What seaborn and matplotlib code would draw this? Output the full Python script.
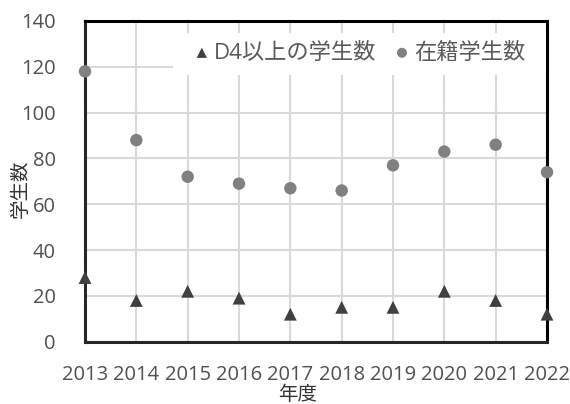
import matplotlib
matplotlib.use("Agg")
import matplotlib.pyplot as plt
import matplotlib.patches as mpatches
import seaborn as sns
import pandas as pd

# Yearly student counts
years = [2013, 2014, 2015, 2016, 2017, 2018, 2019, 2020, 2021, 2022]
d4_students = [28, 18, 22, 19, 12, 15, 15, 22, 18, 12]
enrolled_students = [118, 88, 72, 69, 67, 66, 77, 83, 86, 74]

label_d4 = "D4以上の学生数"
label_enrolled = "在籍学生数"
xlabel = "年度"
ylabel = "学生数"
yticks = [0, 20, 40, 60, 80, 100, 120, 140]

sns.set_theme(style="white")
plt.rcParams["font.family"] = ["Open Sans", "Noto Sans CJK JP", "DejaVu Sans"]

df = pd.DataFrame({"year": years, "d4": d4_students, "enrolled": enrolled_students})

fig = plt.figure(figsize=(5.7, 4.04), dpi=100)
ax = fig.add_axes([85 / 570, (404 - 341.7) / 404, 462 / 570, 320.7 / 404])

sns.scatterplot(data=df, x="year", y="d4", ax=ax, marker="^", s=85,
                color="#404040", edgecolor="none", label=label_d4,
                clip_on=False, zorder=4)
sns.scatterplot(data=df, x="year", y="enrolled", ax=ax, marker="o", s=80,
                color="#808080", edgecolor="none", label=label_enrolled,
                clip_on=False, zorder=4)

ax.set_xlim(2013, 2022)
ax.set_ylim(0, 140)
ax.set_xticks(years)
ax.set_yticks(yticks)
ax.set_axisbelow(True)
ax.grid(True, color="#d9d9d9", linewidth=1.5)

text_col = "#505050"
ax.tick_params(axis="both", length=0, labelsize=14.5, labelcolor=text_col)
ax.tick_params(axis="y", pad=21)
ax.tick_params(axis="x", pad=17)

for side in ["left", "bottom"]:
    ax.spines[side].set_color("#262626")
    ax.spines[side].set_linewidth(2.2)
for side in ["top", "right"]:
    ax.spines[side].set_color("#000000")
    ax.spines[side].set_linewidth(2.2)

ax.set_xlabel(xlabel, fontsize=14, color="#333333")
ax.set_ylabel(ylabel, fontsize=14, color="#333333")
ax.xaxis.label.set_va("center")
ax.yaxis.label.set_va("center")
ax.xaxis.set_label_coords(0.461, -0.166)
ax.yaxis.set_label_coords(-0.1385, 0.476)

# white panel behind the legend
ax.add_patch(mpatches.Rectangle((0.19, 0.832), 0.81, 0.131, transform=ax.transAxes,
                                facecolor="white", edgecolor="none", zorder=1))

leg = ax.legend(loc="center left", bbox_to_anchor=(0.236, 0.90), ncol=2,
                frameon=False, fontsize=16, handlelength=0.7,
                handletextpad=0.2, columnspacing=0.8, borderpad=0,
                borderaxespad=0, markerscale=0.8)
for t in leg.get_texts():
    t.set_color("#595959")

fig.savefig("out.png", dpi=100, facecolor="white")
